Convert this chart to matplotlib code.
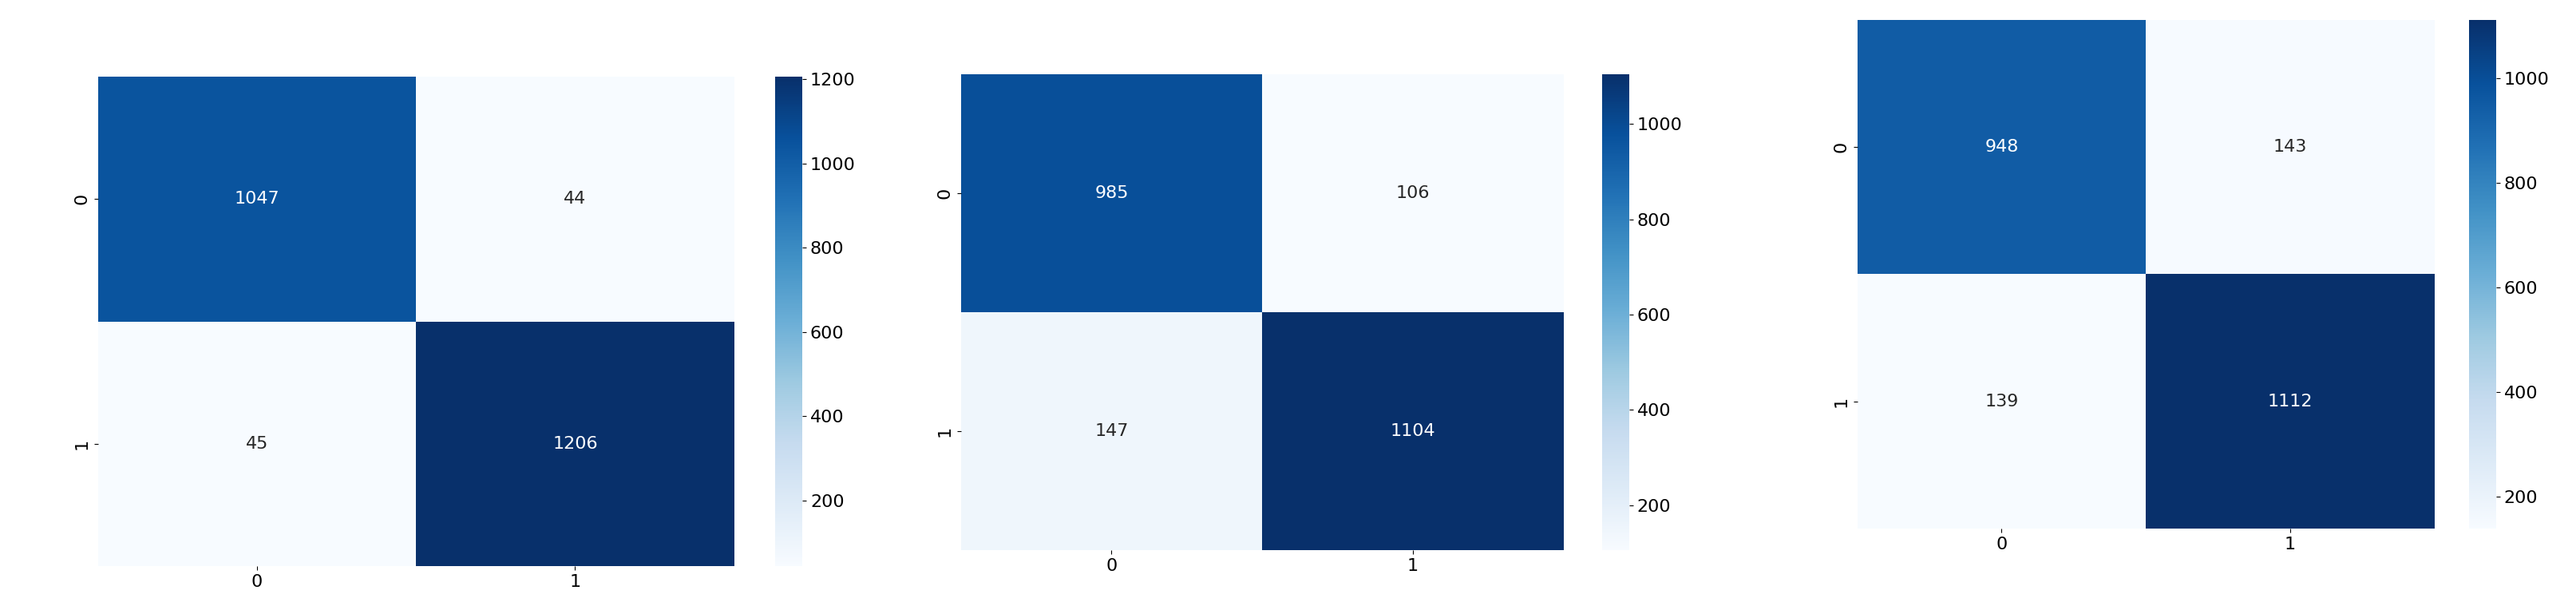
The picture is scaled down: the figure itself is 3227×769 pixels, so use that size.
import matplotlib
matplotlib.use("Agg")
import matplotlib.pyplot as plt
import seaborn as sns
import numpy as np

labels = ["0", "1"]
cm1 = [[1047, 44], [45, 1206]]
cm2 = [[985, 106], [147, 1104]]
cm3 = [[948, 143], [139, 1112]]

fig = plt.figure(figsize=(32.27, 7.69), dpi=100)
specs = [
    (cm1, [0.038, 0.078, 0.247, 0.797], [0.301, 0.078, 0.0105, 0.797]),
    (cm2, [0.373, 0.104, 0.234, 0.775], [0.622, 0.104, 0.0105, 0.775]),
    (cm3, [0.721, 0.139, 0.224, 0.829], [0.9585, 0.139, 0.0105, 0.829]),
]
for cm, axpos, cpos in specs:
    ax = fig.add_axes(axpos)
    cax = fig.add_axes(cpos)
    sns.heatmap(np.array(cm), annot=True, fmt="d", cmap="Blues", ax=ax, cbar_ax=cax,
                xticklabels=labels, yticklabels=labels, annot_kws={"fontsize": 16})
    ax.tick_params(labelsize=16)
    cax.tick_params(labelsize=16)
fig.savefig("out.png", dpi=100)
